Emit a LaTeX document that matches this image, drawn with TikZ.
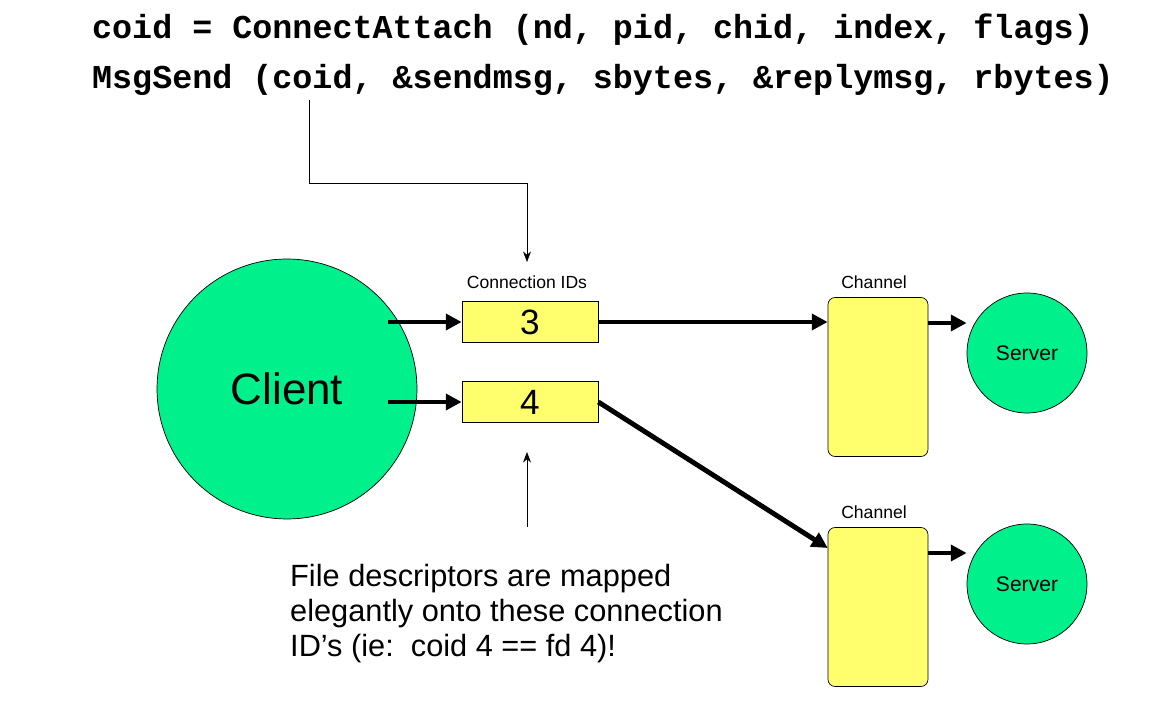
\documentclass[tikz,border=0pt]{standalone}
\usepackage{fontspec}
\setmainfont{Liberation Sans}
\newfontfamily\codefont{Liberation Mono}
\usetikzlibrary{positioning}
\usetikzlibrary{arrows.meta}
\definecolor{clientgreen}{RGB}{0,240,140}
\definecolor{boxyellow}{RGB}{255,255,110}
\begin{document}
\begin{tikzpicture}[x=0.02cm,y=-0.02cm,
    idbox/.style={shape=rectangle,draw=black,fill=boxyellow,minimum width=2.72cm,minimum height=0.82cm,font=\fontsize{20}{20}\selectfont},
    chan/.style={shape=rectangle,draw=black,fill=boxyellow,rounded corners=4pt,minimum width=2cm,minimum height=3.18cm},
    serv/.style={shape=circle,draw=black,fill=clientgreen,minimum size=2.4cm,font=\fontsize{12}{12}\selectfont},
    lbl/.style={font=\fontsize{10}{10}\selectfont},
    thick arrow/.style={line width=2.8pt,-{Triangle[length=9pt,width=9pt]}},
    thin arrow/.style={thin,-{Stealth[length=6pt]}}]
    \useasboundingbox (0,0) rectangle (1174,712);
    \node[font=\codefont\bfseries\fontsize{19}{19}\selectfont] (line1) at (593,30) {coid = ConnectAttach (nd, pid, chid, index, flags)};
    \node[font=\codefont\bfseries\fontsize{19}{19}\selectfont] (line2) at (603,80) {MsgSend (coid, \&sendmsg, sbytes, \&replymsg, rbytes)};

    \node[shape=circle,draw=black,fill=clientgreen,minimum size=5.2cm,font=\fontsize{25}{25}\selectfont] (client) at (287,389) {Client};
    \node[idbox] (id3) at (530,322) {3};
    \node[idbox] (id4) at (530,402) {4};
    \node[lbl] (idlabel) at (527,282) {Connection IDs};
    \node[chan] (chan1) at (878,377) {};
    \node[chan] (chan2) at (878,607) {};
    \node[lbl] (chlabel1) at (874,282) {Channel};
    \node[lbl] (chlabel2) at (874,512) {Channel};
    \node[serv] (server1) at (1027,353) {Server};
    \node[serv] (server2) at (1027,584) {Server};
    \node[align=left,anchor=north west,font=\fontsize{17.5}{20}\selectfont] (note) at (284,558) {File descriptors are mapped\\elegantly onto these connection\\ID's (ie:\ \ coid 4 == fd 4)!};

    \coordinate (src) at (309,100);
    \coordinate (tip) at (527,262);
    \coordinate (notetop) at (527,527);
    \coordinate (noteend) at (527,452);
    \draw[thin arrow] (src) -- (309,183) -- (527,183) -- (tip);
    \draw[thin arrow] (notetop) -- (noteend);

    \draw[thick arrow] (388,322) -- (id3.west);
    \draw[thick arrow] (388,402) -- (id4.west);
    \draw[thick arrow] (id3.east) -- (chan1.west |- id3.east);
    \draw[thick arrow] (id4.east) -- (chan2.west |- 0,548);
    \draw[thick arrow] (chan1.east |- 0,323) -- (server1.west |- 0,323);
    \draw[thick arrow] (chan2.east |- 0,553) -- (server2.west |- 0,553);
\end{tikzpicture}
\end{document}
